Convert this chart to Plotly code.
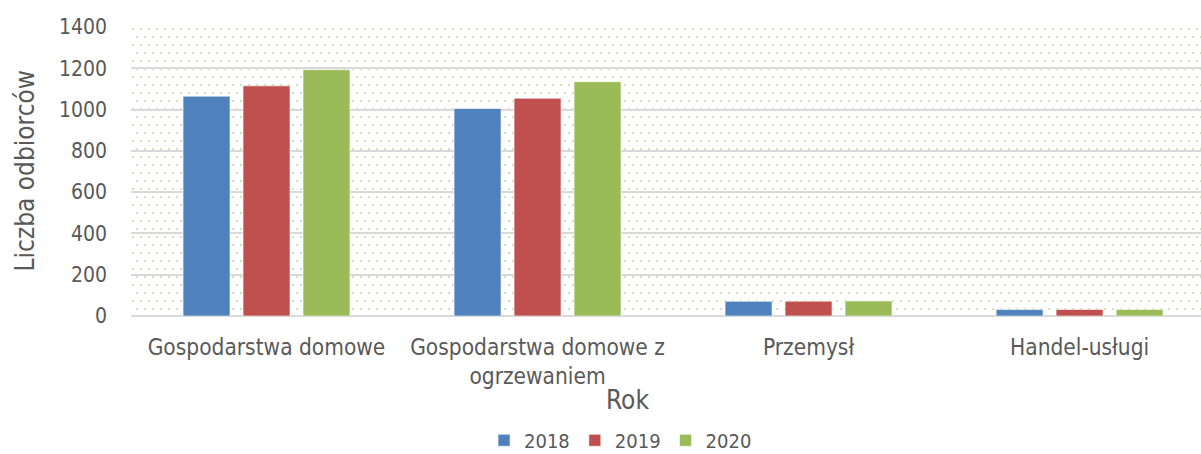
import base64
import plotly.graph_objects as go

categories = ["Gospodarstwa domowe", "Gospodarstwa domowe z<br>ogrzewaniem", "Przemysł", "Handel-usługi"]
years = ["2018", "2019", "2020"]
values_2018 = [1065, 1005, 71, 31]
values_2019 = [1115, 1055, 72, 32]
values_2020 = [1193, 1135, 73, 32]
colors = ["#4F81BD", "#C0504D", "#9BBB59"]
y_ticks = [0, 200, 400, 600, 800, 1000, 1200, 1400]

series = [values_2018, values_2019, values_2020]

font_family = "DejaVu Sans Condensed, DejaVu Sans, sans-serif"
txt = "#595959"

fig = go.Figure()
for name, vals, col in zip(years, series, colors):
    fig.add_trace(go.Bar(
        x=categories, y=vals, name=name,
        marker=dict(color=col, line=dict(color="rgba(255,255,255,0.6)", width=1)),
    ))

# dotted background pattern (decorative)
W, H = 1070, 289
svg = (
    f'<svg xmlns="http://www.w3.org/2000/svg" width="{W}" height="{H}">'
    '<defs><pattern id="p" width="16" height="16" patternUnits="userSpaceOnUse">'
    '<rect x="1" y="1" width="2" height="2" fill="#d5e2b8"/>'
    '<rect x="9" y="1" width="2" height="2" fill="#d5e2b8"/>'
    '<rect x="5" y="9" width="2" height="2" fill="#d5e2b8"/>'
    '<rect x="13" y="9" width="2" height="2" fill="#d5e2b8"/>'
    '</pattern></defs>'
    f'<rect width="{W}" height="{H}" fill="url(#p)"/></svg>'
)
src = "data:image/svg+xml;base64," + base64.b64encode(svg.encode()).decode()

fig.update_layout(
    width=1201, height=454,
    margin=dict(l=131, r=0, t=27, b=138, autoexpand=False),
    paper_bgcolor="white",
    plot_bgcolor="rgba(0,0,0,0)",
    font=dict(family=font_family, color=txt, size=21),
    barmode="group",
    bargap=0.336,
    bargroupgap=0.217,
    showlegend=True,
    legend=dict(orientation="h", x=0.4575, xanchor="center", y=-0.43, yanchor="middle",
                font=dict(size=20, color=txt), itemwidth=30,
                traceorder="normal"),
    images=[dict(source=src, xref="paper", yref="paper", x=0, y=1, sizex=1, sizey=1,
                 sizing="stretch", layer="below", xanchor="left", yanchor="top")],
    annotations=[
        dict(text="Rok", xref="paper", yref="paper", x=0.464, y=-0.29,
             showarrow=False, font=dict(size=26, color=txt),
             xanchor="center", yanchor="middle"),
        dict(text="Liczba odbiorców", xref="paper", yref="paper", x=-0.1, y=0.5,
             showarrow=False, textangle=-90, font=dict(size=26, color=txt),
             xanchor="center", yanchor="middle"),
    ],
)

fig.update_xaxes(
    type="category", range=[-0.5, 3.448],
    showgrid=False, showline=False, ticks="",
    tickfont=dict(size=22.5, color=txt), ticklabelstandoff=15,
)
fig.update_yaxes(
    range=[0, 1400], tickvals=y_ticks,
    showgrid=True, gridcolor="#d9d9d9", gridwidth=1.5,
    zeroline=True, zerolinecolor="#d9d9d9", zerolinewidth=2,
    showline=False, ticks="",
    tickfont=dict(size=21, color=txt), ticklabelstandoff=23,
)

fig.write_html(
    "out.html",
    config={"displayModeBar": False},
    post_script="document.body.style.margin='0';document.body.style.overflow='hidden';",
)
